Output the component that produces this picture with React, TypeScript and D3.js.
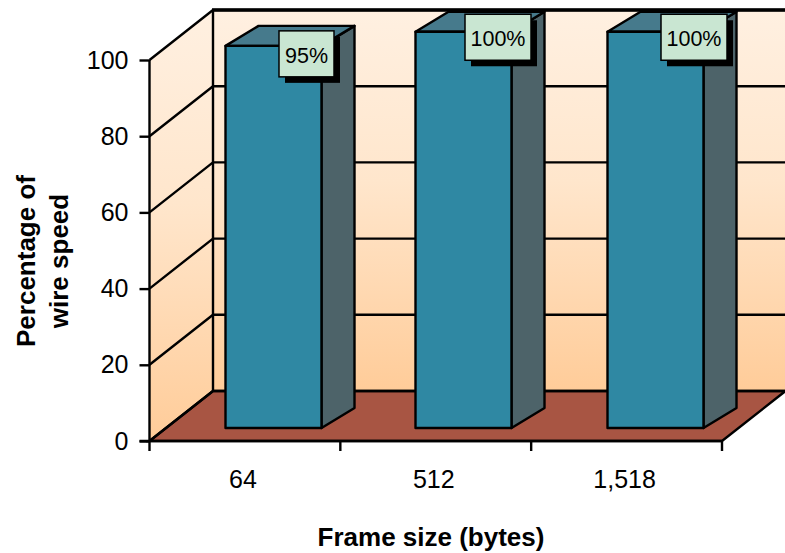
import React, { useEffect, useRef } from "react";
import * as d3 from "d3";

const categories = ["64", "512", "1,518"];
const barLabels = ["95%", "100%", "100%"];
// heights as drawn: the bars stand taller than their labels say
const drawnValues = [100.3, 104, 104];
const yTicks = [0, 20, 40, 60, 80, 100];

const App = () => {
  const svgRef = useRef<SVGSVGElement>(null);

  useEffect(() => {
    const width = 785;
    const height = 553;
    const font = "Liberation Sans, Arial, sans-serif";

    const left = 149.5;
    const right = 722;
    const floorY = 441;
    const depthX = 63.5;
    const depthY = 50;
    const lineW = 2.4;

    const svg = d3.select(svgRef.current);
    svg.selectAll("*").remove();
    svg.attr("width", width).attr("height", height).style("position", "absolute").style("left", 0).style("top", 0);

    const y = d3.scaleLinear().domain([0, 100]).range([floorY, 60]);
    const x = d3.scaleBand().domain(categories).range([left, right]);

    const defs = svg.append("defs");
    const grad = defs
      .append("linearGradient")
      .attr("id", "wall")
      .attr("x1", 0)
      .attr("x2", 0)
      .attr("y1", 0)
      .attr("y2", 1);
    grad.append("stop").attr("offset", "0%").attr("stop-color", "#fff0e1");
    grad.append("stop").attr("offset", "45%").attr("stop-color", "#ffe6cc");
    grad.append("stop").attr("offset", "100%").attr("stop-color", "#ffcc99");

    const poly = (pts: [number, number][]) => d3.line()(pts)! + "Z";
    const backTop = y(100) - depthY;
    const backBottom = floorY - depthY;

    // back wall
    svg
      .append("rect")
      .attr("x", left + depthX)
      .attr("y", backTop)
      .attr("width", width - left - depthX)
      .attr("height", backBottom - backTop)
      .attr("fill", "url(#wall)");

    // side wall
    svg
      .append("path")
      .attr("d", poly([[left, y(100)], [left + depthX, backTop], [left + depthX, backBottom], [left, floorY]]))
      .attr("fill", "url(#wall)");

    // floor
    svg
      .append("path")
      .attr("d", poly([[left, floorY], [left + depthX, backBottom], [right + depthX, backBottom], [right, floorY]]))
      .attr("fill", "#a85543")
      .attr("stroke", "#000")
      .attr("stroke-width", lineW);

    // grid on walls
    const grid = svg.append("g").attr("stroke", "#000").attr("stroke-width", lineW).attr("fill", "none");
    yTicks.forEach((t) => {
      grid
        .append("path")
        .attr("d", d3.line()([[left, y(t)], [left + depthX, y(t) - depthY], [width, y(t) - depthY]]));
    });
    grid.append("line").attr("x1", left).attr("x2", left).attr("y1", y(100)).attr("y2", floorY);
    grid
      .append("line")
      .attr("x1", left + depthX)
      .attr("x2", left + depthX)
      .attr("y1", backTop)
      .attr("y2", backBottom);

    // axis ticks and labels
    const axisY = d3.axisLeft(y).tickValues(yTicks).tickSize(10).tickPadding(11);
    const gy = svg.append("g").attr("transform", `translate(${left},0)`).call(axisY as any);
    gy.select(".domain").remove();
    gy.selectAll("line").attr("stroke", "#000").attr("stroke-width", lineW);
    gy.selectAll("text").attr("font-family", font).attr("font-size", 25).attr("fill", "#000");

    const gx = svg.append("g").attr("transform", `translate(0,${floorY})`);
    gx.append("line").attr("x1", left - 10).attr("x2", right).attr("y1", 0).attr("y2", 0).attr("stroke", "#000").attr("stroke-width", lineW);
    [left, ...categories.map((c) => x(c)! + x.bandwidth())].forEach((tx) => {
      gx.append("line").attr("x1", tx).attr("x2", tx).attr("y1", 0).attr("y2", 10).attr("stroke", "#000").attr("stroke-width", lineW);
    });
    categories.forEach((c) => {
      gx.append("text")
        .attr("x", x(c)! + x.bandwidth() / 2 - 2)
        .attr("y", 47)
        .attr("text-anchor", "middle")
        .attr("font-family", font)
        .attr("font-size", 25)
        .attr("fill", "#000")
        .text(c);
    });

    // bars
    const barFloorY = 428;
    const barDepthX = 33;
    const barDepthY = 20;
    const barW = 96;
    const barLeft = [225.5, 415.5, 607.5];
    const yBar = d3.scaleLinear().domain([0, 100]).range([barFloorY, y(100) - (floorY - barFloorY)]);
    const bars = svg.append("g").attr("stroke", "#000").attr("stroke-width", lineW).attr("stroke-linejoin", "round");

    categories.forEach((c, i) => {
      const x0 = barLeft[i];
      const x1 = x0 + barW;
      const top = yBar(drawnValues[i]);
      bars
        .append("path")
        .attr("d", poly([[x1, top], [x1 + barDepthX, top - barDepthY], [x1 + barDepthX, barFloorY - barDepthY], [x1, barFloorY]]))
        .attr("fill", "#4d6369");
      bars
        .append("path")
        .attr("d", poly([[x0, top], [x0 + barDepthX, top - barDepthY], [x1 + barDepthX, top - barDepthY], [x1, top]]))
        .attr("fill", "#467a8c");
      bars
        .append("rect")
        .attr("x", x0)
        .attr("y", top)
        .attr("width", barW)
        .attr("height", barFloorY - top)
        .attr("fill", "#2f88a3");
    });

    // top edge of the back wall sits over the bars
    svg
      .append("line")
      .attr("x1", left + depthX - 1)
      .attr("x2", width)
      .attr("y1", backTop)
      .attr("y2", backTop)
      .attr("stroke", "#000")
      .attr("stroke-width", 3.5);

    // data labels with drop shadow
    const labelW = [55, 66, 66];
    const labelRight = [334, 531, 727];
    const labelLift = [15, 17.5, 17.5];
    const labels = svg.append("g");
    categories.forEach((c, i) => {
      const top = yBar(drawnValues[i]) - labelLift[i];
      const bx = labelRight[i] - labelW[i];
      labels.append("rect").attr("x", bx + 6).attr("y", top + 6).attr("width", labelW[i]).attr("height", 46).attr("fill", "#000");
      labels
        .append("rect")
        .attr("x", bx)
        .attr("y", top)
        .attr("width", labelW[i])
        .attr("height", 46)
        .attr("fill", "#c9e6d2")
        .attr("stroke", "#000")
        .attr("stroke-width", 1.5);
      labels
        .append("text")
        .attr("x", bx + labelW[i] / 2)
        .attr("y", top + 32)
        .attr("text-anchor", "middle")
        .attr("font-family", font)
        .attr("font-size", 21.5)
        .attr("fill", "#000")
        .text(barLabels[i]);
    });

    // axis titles
    svg
      .append("text")
      .attr("x", 431)
      .attr("y", 546)
      .attr("text-anchor", "middle")
      .attr("font-family", font)
      .attr("font-size", 26)
      .attr("font-weight", "bold")
      .text("Frame size (bytes)");
    const yTitle = svg
      .append("text")
      .attr("transform", "translate(35,261) rotate(-90)")
      .attr("text-anchor", "middle")
      .attr("font-family", font)
      .attr("font-size", 26)
      .attr("font-weight", "bold");
    yTitle.append("tspan").attr("x", 0).attr("y", 0).text("Percentage of");
    yTitle.append("tspan").attr("x", 0).attr("y", 33).text("wire speed");
  }, []);

  return <svg ref={svgRef}></svg>;
};

export default App;
